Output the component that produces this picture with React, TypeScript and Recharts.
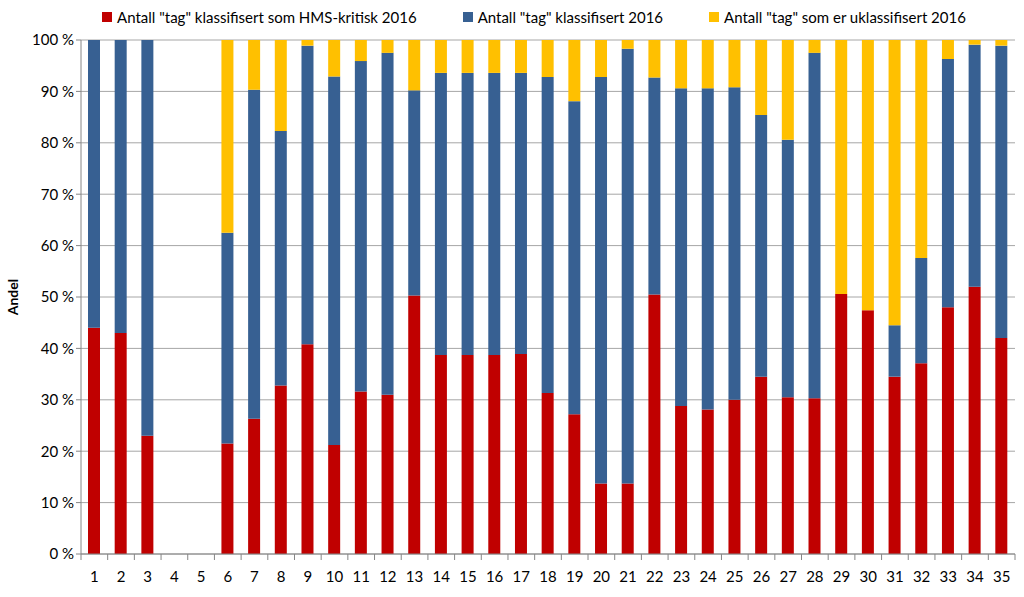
import React from "react";
import { BarChart, Bar, XAxis, YAxis, CartesianGrid, Legend, Label } from "recharts";

const categories = Array.from({ length: 35 }, (_, i) => String(i + 1));

// Andel i prosent per kategori (lest av figuren)
const hmsKritisk = [44, 43, 23, 0, 0, 21.5, 26.3, 32.8, 40.8, 21.2, 31.6, 31, 50.3, 38.7, 38.7, 38.7, 38.9, 31.3, 27.2, 13.7, 13.7, 50.5, 28.8, 28.1, 30, 34.5, 30.5, 30.3, 50.6, 47.4, 34.5, 37.1, 48, 52, 42];
const klassifisert = [56, 57, 77, 0, 0, 41, 64, 49.5, 58.1, 71.7, 64.3, 66.5, 39.9, 54.9, 54.9, 54.9, 54.7, 61.5, 60.9, 79.1, 84.6, 42.2, 61.8, 62.5, 60.8, 50.9, 50.1, 67.2, 0, 0, 10, 20.5, 48.3, 47.1, 56.9];
const uklassifisert = [0, 0, 0, 0, 0, 37.5, 9.7, 17.7, 1.1, 7.1, 4.1, 2.5, 9.8, 6.4, 6.4, 6.4, 6.4, 7.2, 11.9, 7.2, 1.7, 7.3, 9.4, 9.4, 9.2, 14.6, 19.4, 2.5, 49.4, 52.6, 55.5, 42.4, 3.7, 0.9, 1.1];

const yTicks = [0, 10, 20, 30, 40, 50, 60, 70, 80, 90, 100];

const series = [
  { key: "hms", name: 'Antall "tag" klassifisert som HMS-kritisk 2016', color: "#c00000" },
  { key: "klass", name: 'Antall "tag" klassifisert 2016', color: "#376092" },
  { key: "ukl", name: 'Antall "tag" som er uklassifisert 2016', color: "#ffc000" },
];

const data = categories.map((name, i) => ({
  name,
  hms: hmsKritisk[i],
  klass: klassifisert[i],
  ukl: uklassifisert[i],
}));

const FONT = "Lato, 'Open Sans', sans-serif";

const XTick = (props: any) => {
  const { x, y, payload, width } = props;
  const band = width / categories.length;
  const left = x - band / 2;
  return (
    <g>
      <line x1={left} x2={left} y1={y - 8} y2={y - 2} stroke="#868686" />
      {payload.index === categories.length - 1 && (
        <line x1={x + band / 2} x2={x + band / 2} y1={y - 8} y2={y - 2} stroke="#868686" />
      )}
      <text x={x} y={y + 20} textAnchor="middle" fill="#000" fontSize={15} fontFamily={FONT}>
        {payload.value}
      </text>
    </g>
  );
};

const LegendContent = () => (
  <div style={{ display: "flex", justifyContent: "center", fontFamily: FONT, fontSize: 15, color: "#000" }}>
    {series.map((s) => (
      <div key={s.key} style={{ display: "flex", alignItems: "center", margin: "0 23px" }}>
        <span style={{ display: "inline-block", width: 10, height: 10, background: s.color, marginRight: 5 }} />
        <span>{s.name}</span>
      </div>
    ))}
  </div>
);

export default function App() {
  return (
    <div style={{ position: "absolute", left: 0, top: 0, background: "#fff" }}>
      <BarChart
        width={1024}
        height={597}
        data={data}
        margin={{ top: 22, right: 9, left: 11, bottom: 13 }}
        barCategoryGap={0}
      >
        <CartesianGrid vertical={false} stroke="#a6a6a6" />
        <XAxis
          dataKey="name"
          tick={<XTick />}
          tickLine={false}
          axisLine={{ stroke: "#868686" }}
          height={30}
          interval={0}
        />
        <YAxis
          domain={[0, 100]}
          ticks={yTicks}
          tickFormatter={(v) => `${v} %`}
          width={70}
          axisLine={{ stroke: "#868686" }}
          tickLine={{ stroke: "#868686" }}
          tickSize={5}
          tick={{ fill: "#000", fontSize: 15, fontFamily: FONT }}
          interval={0}
        >
          <Label
            value="Andel"
            angle={-90}
            position="insideLeft"
            offset={2}
            style={{ fontWeight: "bold", fontSize: 14, fill: "#000", fontFamily: FONT, textAnchor: "middle" }}
          />
        </YAxis>
        <Legend
          verticalAlign="top"
          align="center"
          content={<LegendContent />}
          wrapperStyle={{ top: 8, left: 32 }}
        />
        {series.map((s) => (
          <Bar key={s.key} dataKey={s.key} name={s.name} stackId="a" fill={s.color} barSize={12} isAnimationActive={false} />
        ))}
      </BarChart>
    </div>
  );
}
